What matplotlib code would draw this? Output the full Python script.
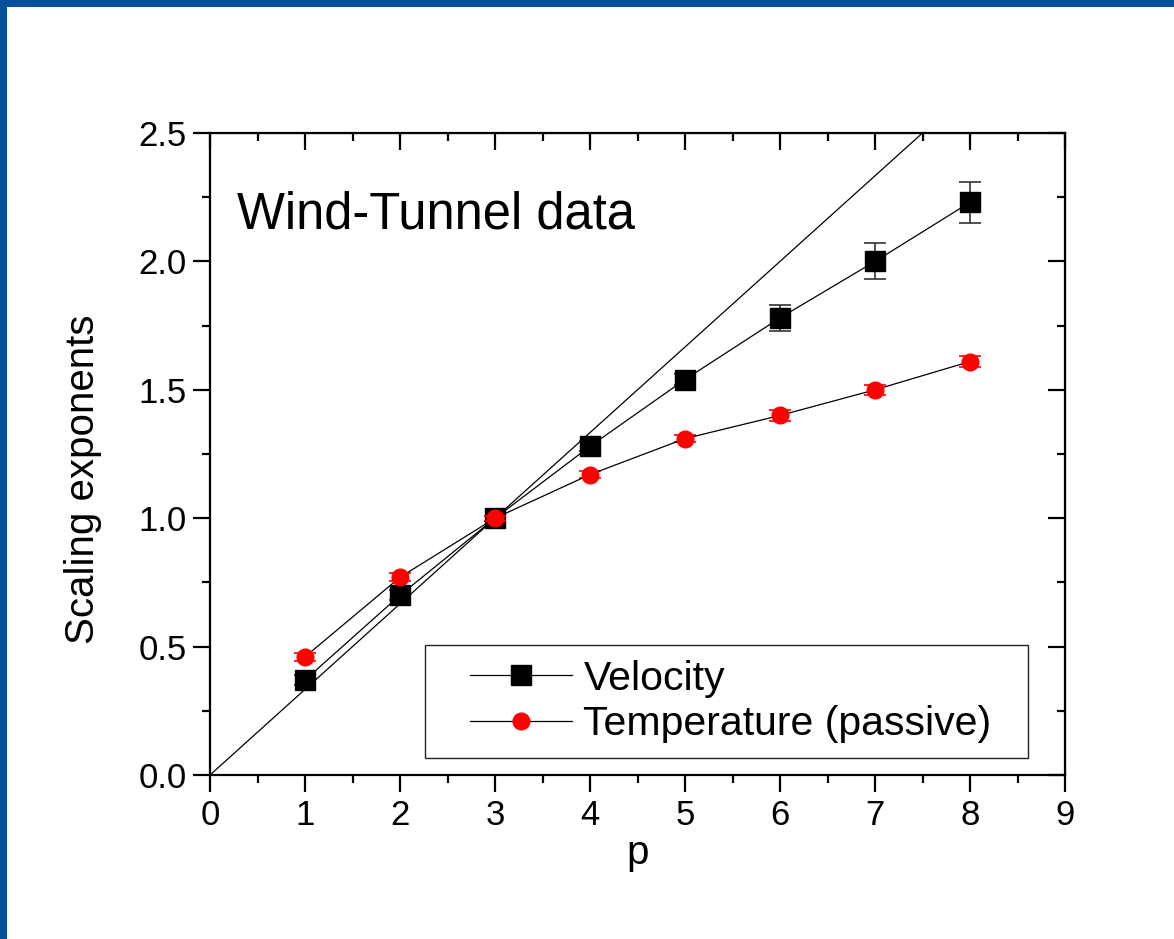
import numpy as np
import matplotlib.pyplot as plt
from matplotlib.ticker import MultipleLocator
from matplotlib.patches import Rectangle
from matplotlib.lines import Line2D

plt.rcParams['font.family'] = ['Liberation Sans', 'DejaVu Sans']

# ── Data ───────────────────────────────────────────────────────────────────
p = [1, 2, 3, 4, 5, 6, 7, 8]
velocity = [0.37, 0.70, 1.00, 1.28, 1.54, 1.78, 2.00, 2.23]
velocity_err = [0.02, 0.02, 0.01, 0.02, 0.02, 0.05, 0.07, 0.08]
temperature = [0.46, 0.77, 1.00, 1.17, 1.31, 1.40, 1.50, 1.61]
temperature_err = [0.015, 0.015, 0.01, 0.015, 0.015, 0.02, 0.02, 0.02]
k41_p = [0, 9]
k41 = [0, 3]

# ── Figure ─────────────────────────────────────────────────────────────────
fig = plt.figure(figsize=(11.74, 9.39), dpi=100)
fig.patches.append(Rectangle((0, 0), 1, 1, transform=fig.transFigure,
                             facecolor='#05509c', edgecolor='none', zorder=-2))
fig.patches.append(Rectangle((7 / 1174, 0), 1, 1 - 7 / 939, transform=fig.transFigure,
                             facecolor='white', edgecolor='none', zorder=-1))

ax = fig.add_axes([210 / 1174, 164 / 939, 855 / 1174, 642 / 939])
ax.set_facecolor('none')

ax.plot(k41_p, k41, color='black', lw=0.9, zorder=1)
ax.errorbar(p, velocity, yerr=velocity_err, fmt='-s', color='black', lw=0.9,
            ms=14, ecolor='#333333', elinewidth=1.2, capsize=8, capthick=1.2,
            zorder=3)
ax.errorbar(p, temperature, yerr=temperature_err, fmt='-o', color='black', lw=0.9,
            ms=12, mfc='red', mec='red', ecolor='red', elinewidth=1.2,
            capsize=8, capthick=1.2, zorder=4)

ax.set_xlim(0, 9)
ax.set_ylim(0, 2.5)
ax.xaxis.set_major_locator(MultipleLocator(1))
ax.xaxis.set_minor_locator(MultipleLocator(0.5))
ax.yaxis.set_major_locator(MultipleLocator(0.5))
ax.yaxis.set_minor_locator(MultipleLocator(0.25))
ax.yaxis.set_major_formatter(lambda v, pos: f"{v:.1f}")

for s in ax.spines.values():
    s.set_linewidth(1.6)
ax.tick_params(which='both', labelsize=25, width=1.6, direction='out',
               top=False, right=False, pad=5)
ax.tick_params(which='major', length=12)
ax.tick_params(which='minor', length=6)

# inward ticks on the top and right
ax2 = ax.secondary_xaxis('top')
ax2.xaxis.set_major_locator(MultipleLocator(1))
ax2.xaxis.set_minor_locator(MultipleLocator(0.5))
ax2.tick_params(which='both', direction='in', width=1.6, labeltop=False)
ax2.tick_params(which='major', length=12)
ax2.tick_params(which='minor', length=6)
ay2 = ax.secondary_yaxis('right')
ay2.yaxis.set_major_locator(MultipleLocator(0.5))
ay2.yaxis.set_minor_locator(MultipleLocator(0.25))
ay2.tick_params(which='both', direction='in', width=1.6, labelright=False)
ay2.tick_params(which='major', length=12)
ay2.tick_params(which='minor', length=6)

ax.set_xlabel('p', fontsize=29, labelpad=2)
ax.set_ylabel('Scaling exponents', fontsize=29)
ax.yaxis.set_label_coords(-0.126, 0.46)

ax.text(0.031, 0.872, 'Wind-Tunnel data', transform=ax.transAxes,
        fontsize=36.5, va='center', ha='left')

# legend: frame drawn separately for its wide side margins
ax.add_patch(Rectangle((0.2515, 0.0265), 0.7052, 0.176, transform=ax.transAxes,
                       facecolor='white', edgecolor='#222222', lw=1.0, zorder=5))
handles = [
    Line2D([], [], color='black', lw=0.9, marker='s', ms=14, mfc='black', mec='black'),
    Line2D([], [], color='black', lw=0.9, marker='o', ms=12, mfc='red', mec='red'),
]
leg = ax.legend(handles, ['Velocity', 'Temperature (passive)'],
                loc='center left', bbox_to_anchor=(0.304, 0.1145), fontsize=29.5,
                handlelength=2.5, frameon=False, borderpad=0,
                labelspacing=0.18, borderaxespad=0, handletextpad=0.27)
leg.set_zorder(6)

fig.savefig('out.png', dpi=100)
